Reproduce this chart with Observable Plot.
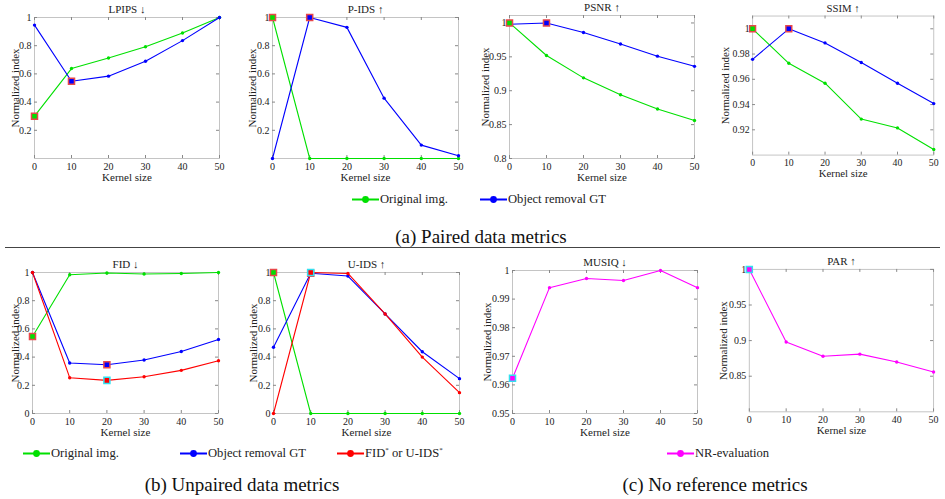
<!DOCTYPE html>
<html><head><meta charset="utf-8">
<script src="https://cdn.jsdelivr.net/npm/d3@7"></script>
<script src="https://cdn.jsdelivr.net/npm/@observablehq/plot@0.6"></script>
<style>
body{margin:0;background:#fff;font-family:"Liberation Serif",serif;}
#root{position:relative;width:945px;height:499px;overflow:hidden;background:#fff;}
.panel{position:absolute;}
.panel svg, .panel svg text{font-family:"Liberation Serif",serif !important;}
.leg{position:absolute;display:flex;align-items:center;font-size:12.6px;color:#222;white-space:nowrap;transform:translateY(-50%);}
.leg svg{margin-right:1px;}
.leg sup{font-size:7px;vertical-align:5px;}
.cap{position:absolute;font-size:19px;color:#111;white-space:nowrap;transform:translate(-50%,-50%);}
.sep{position:absolute;left:5px;width:935px;top:247px;height:0;border-top:1.5px solid #444;}
</style></head><body><div id="root"></div>
<script>
// ---------- data ----------
const kernel = [0, 10, 20, 30, 40, 50];
const lpipsOriginal = [0.30, 0.638, 0.713, 0.793, 0.89, 1.0];
const lpipsObject   = [0.946, 0.548, 0.584, 0.69, 0.836, 1.0];
const pidsOriginal  = [1, 0, 0, 0, 0, 0];
const pidsObject    = [0, 1, 0.93, 0.428, 0.095, 0.02];
const psnrOriginal  = [1, 0.952, 0.919, 0.894, 0.873, 0.856];
const psnrObject    = [0.998, 1, 0.986, 0.969, 0.951, 0.936];
const ssimOriginal  = [1, 0.9727, 0.9569, 0.9285, 0.9215, 0.9044];
const ssimObject    = [0.9758, 1, 0.9888, 0.9733, 0.9569, 0.9408];
const fidOriginal   = [0.546, 0.984, 0.996, 0.989, 0.993, 1.0];
const fidObject     = [1, 0.358, 0.346, 0.379, 0.44, 0.525];
const fidStar       = [1, 0.254, 0.235, 0.261, 0.306, 0.374];
const uidsOriginal  = [1, 0, 0, 0, 0, 0];
const uidsObject    = [0.47, 0.995, 0.975, 0.706, 0.438, 0.247];
const uidsStar      = [0, 1, 0.993, 0.706, 0.40, 0.148];
const musiqNR       = [0.9623, 0.994, 0.9972, 0.9965, 1.0, 0.994];
const parNR         = [1, 0.898, 0.878, 0.881, 0.870, 0.856];

const titles = ["LPIPS ↓", "P-IDS ↑", "PSNR ↑", "SSIM ↑", "FID ↓", "U-IDS ↑", "MUSIQ ↓", "PAR ↑"];
const yTicks = [
  [0.2, 0.4, 0.6, 0.8, 1],
  [0.2, 0.4, 0.6, 0.8, 1],
  [0.8, 0.85, 0.9, 0.95, 1],
  [0.92, 0.94, 0.96, 0.98, 1],
  [0, 0.2, 0.4, 0.6, 0.8, 1],
  [0, 0.2, 0.4, 0.6, 0.8, 1],
  [0.95, 0.96, 0.97, 0.98, 0.99, 1],
  [0.85, 0.9, 0.95, 1]
];
const yDomains = [[0, 1], [0, 1], [0.8, 1.011], [0.9, 1.0101], [0, 1], [0, 1], [0.95, 1], [0.8, 1]];
// series per panel: [kind, values, index of best marker]
const panelSeries = [
  [["orig", lpipsOriginal, 0], ["obj", lpipsObject, 1]],
  [["orig", pidsOriginal, 0], ["obj", pidsObject, 1]],
  [["orig", psnrOriginal, 0], ["obj", psnrObject, 1]],
  [["orig", ssimOriginal, 0], ["obj", ssimObject, 1]],
  [["orig", fidOriginal, 0], ["obj", fidObject, 2], ["star", fidStar, 2]],
  [["orig", uidsOriginal, 0], ["obj", uidsObject, 1], ["star", uidsStar, 1]],
  [["nr", musiqNR, 0]],
  [["nr", parNR, 0]]
];
const legendNames = {orig: "Original img.", obj: "Object removal GT", star: "FID<sup>*</sup> or U-IDS<sup>*</sup>", nr: "NR-evaluation"};

// ---------- styles / layout ----------
const colors = {orig: "#00e000", obj: "#0000ff", star: "#ff0000", nr: "#ff00ff"};
const edges  = {orig: "#e8474a", obj: "#e8474a", star: "#33e0f0", nr: "#33e0f0"};
const frames = [ // [x0, x1, yTop, yBottom] of each axes box
  [34, 219, 17, 158], [272, 458, 17, 158], [509, 694, 15, 158], [753, 938, 16, 158],
  [32, 218, 272, 413], [273, 459, 272, 413], [512, 697, 270, 413], [749, 934, 269, 412]
];
const ylabelOffsets = [19, 20, 24, 28, 17, 20, 25, 26];
const root = document.getElementById("root");
const fmt = d3.format("~g");
const font = "Liberation Serif";

titles.forEach((title, i) => {
  const [x0, x1, yT, yB] = frames[i];
  const mL = 44, mR = 12, mT = 22, mB = 30;
  const fw = x1 - x0, fh = yB - yT;
  const ticks = yTicks[i];
  const txt = {fontFamily: font, fill: "#222"};
  const marks = [
    Plot.frame({stroke: "#c4c4c4"}),
    Plot.ruleX(kernel, {x: d => d, insetTop: fh - 3, stroke: "#888"}),
    Plot.ruleX(kernel, {x: d => d, insetBottom: fh - 3, stroke: "#888"}),
    Plot.ruleY(ticks, {y: d => d, insetRight: fw - 3, stroke: "#888"}),
    Plot.ruleY(ticks, {y: d => d, insetLeft: fw - 3, stroke: "#888"}),
    Plot.axisX({ticks: kernel, tickSize: 0, tickPadding: 4.5, label: null, tickFormat: fmt, fontSize: 10, ...txt}),
    Plot.axisY({ticks: ticks, tickSize: 0, tickPadding: 3, label: null, tickFormat: fmt, fontSize: 10, ...txt})
  ];
  for (const [kind, vals] of panelSeries[i]) {
    const data = kernel.map((k, j) => ({k, v: vals[j]}));
    marks.push(Plot.line(data, {x: "k", y: "v", stroke: colors[kind], strokeWidth: 1.1}));
    marks.push(Plot.dot(data, {x: "k", y: "v", r: 1.7, fill: colors[kind], stroke: "none"}));
  }
  for (const [kind, vals, b] of panelSeries[i]) {
    marks.push(Plot.dot([{k: kernel[b], v: vals[b]}], {x: "k", y: "v", symbol: "square", r: 3.4,
      fill: colors[kind], stroke: edges[kind], strokeWidth: 1.5}));
  }
  marks.push(
    Plot.text([title], {text: d => d, frameAnchor: "top", lineAnchor: "middle", dy: -8, fontSize: 11, ...txt}),
    Plot.text(["Kernel size"], {text: d => d, frameAnchor: "bottom", lineAnchor: "middle", dy: 19, fontSize: 11, ...txt}),
    Plot.text(["Normalized index"], {text: d => d, frameAnchor: "left", lineAnchor: "middle", textAnchor: "middle", dx: -ylabelOffsets[i], rotate: -90, fontSize: 11, ...txt})
  );
  const svg = Plot.plot({
    width: fw + mL + mR, height: fh + mT + mB,
    marginLeft: mL, marginRight: mR, marginTop: mT, marginBottom: mB,
    x: {domain: [0, 50]},
    y: {domain: yDomains[i]},
    style: {fontFamily: font, fontSize: "10px", background: "transparent", overflow: "visible"},
    marks
  });
  const div = document.createElement("div");
  div.className = "panel";
  div.style.left = (x0 - mL) + "px";
  div.style.top = (yT - mT) + "px";
  div.appendChild(svg);
  root.appendChild(div);
});

// legends: [kind, left of line, vertical centre]
const legends = [["orig", 352, 199], ["obj", 480, 199], ["orig", 23, 453], ["obj", 180, 453], ["star", 337, 453], ["nr", 667, 453]];
for (const [kind, x, y] of legends) {
  const el = document.createElement("div");
  el.className = "leg";
  el.style.left = x + "px";
  el.style.top = y + "px";
  const c = colors[kind];
  el.innerHTML = `<svg width="27" height="10"><line x1="0" x2="27" y1="5" y2="5" stroke="${c}" stroke-width="2.2"/><circle cx="13.5" cy="5" r="3.4" fill="${c}"/></svg><span>${legendNames[kind]}</span>`;
  root.appendChild(el);
}
// captions
const captions = [["(a) Paired data metrics", 481, 237], ["(b) Unpaired data metrics", 242, 485], ["(c) No reference metrics", 715, 485]];
for (const [t, x, y] of captions) {
  const el = document.createElement("div");
  el.className = "cap";
  el.style.left = x + "px";
  el.style.top = y + "px";
  el.textContent = t;
  root.appendChild(el);
}
const sep = document.createElement("div");
sep.className = "sep";
root.appendChild(sep);
</script></body></html>
